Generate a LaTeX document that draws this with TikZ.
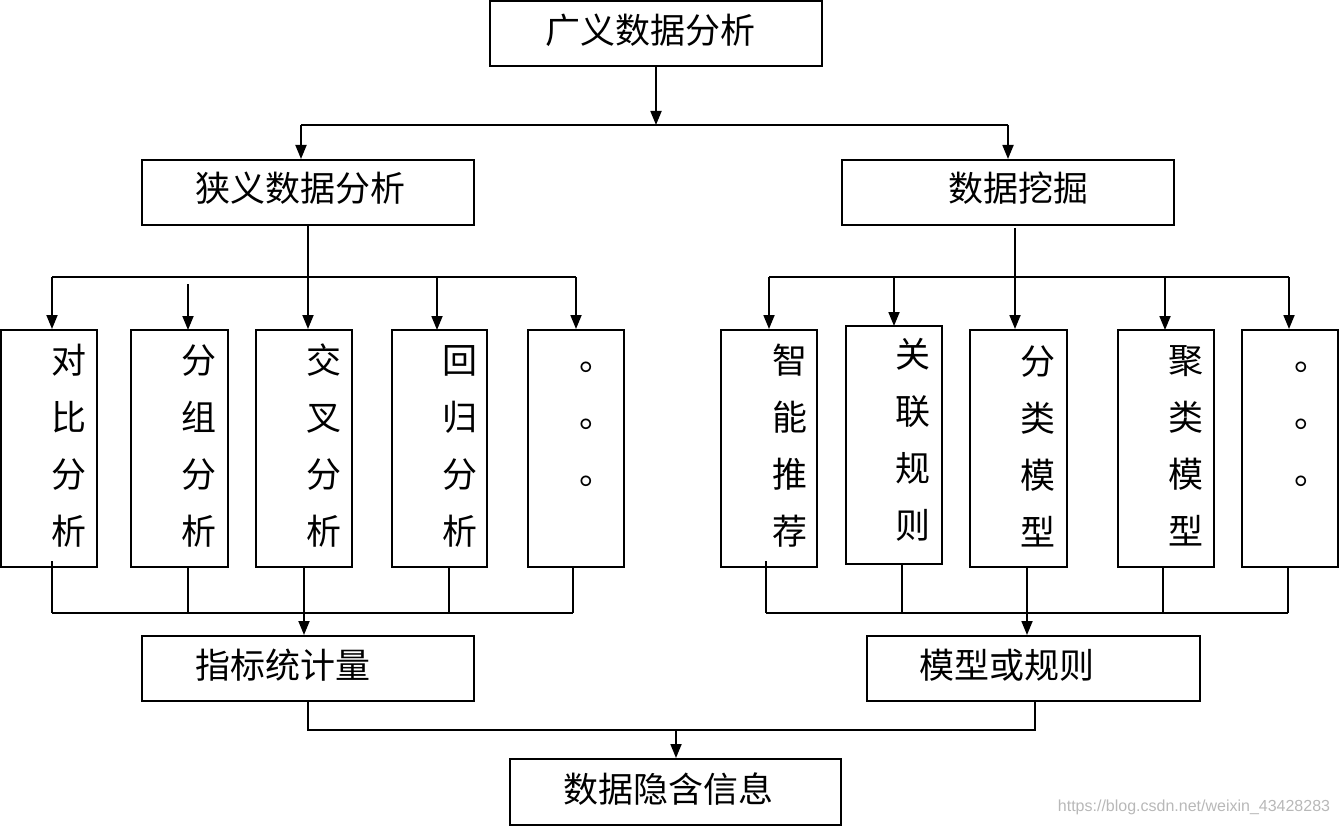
\documentclass[tikz,border=0pt]{standalone}
\usepackage{fontspec}
\newfontfamily\cjk{Noto Sans CJK SC}
\newfontfamily\wmfont{Liberation Sans}
\usetikzlibrary{arrows.meta}
\tikzset{
  box/.style={draw, line width=2pt, inner sep=0pt, fill=white},
  conn/.style={line width=1.8pt},
  arr/.style={line width=1.8pt, -{Triangle[width=11pt,length=14pt]}},
  big/.style={font=\cjk\fontsize{35}{42}\selectfont, inner sep=0pt},
  vert/.style={font=\cjk\fontsize{35}{57}\selectfont, inner sep=0pt, align=center},
}
\begin{document}
\begin{tikzpicture}[x=1pt,y=-1pt]
\useasboundingbox (0,0) rectangle (1340,826);
% top level
\node[box, minimum width=332, minimum height=65] (top) at (656,33.5) {};
\node[big] (ttop) at (650,30) {广义数据分析};
\node[box, minimum width=332, minimum height=65] (narrow) at (308,192.5) {};
\node[big] (tnarrow) at (300,188) {狭义数据分析};
\node[box, minimum width=332, minimum height=65] (mining) at (1008,192.5) {};
\node[big] (tmining) at (1018,188) {数据挖掘};
% left column boxes
\node[box, minimum width=96, minimum height=237] (L1) at (49,448.5) {};
\node[box, minimum width=97, minimum height=237] (L2) at (179.5,448.5) {};
\node[box, minimum width=96, minimum height=237] (L3) at (304,448.5) {};
\node[box, minimum width=95, minimum height=237] (L4) at (439.5,448.5) {};
\node[box, minimum width=96, minimum height=237] (L5) at (576,448.5) {};
% right column boxes
\node[box, minimum width=96, minimum height=237] (R1) at (769,448.5) {};
\node[box, minimum width=96, minimum height=238] (R2) at (894,445) {};
\node[box, minimum width=97, minimum height=237] (R3) at (1018.5,448.5) {};
\node[box, minimum width=96, minimum height=237] (R4) at (1166,448.5) {};
\node[box, minimum width=96, minimum height=237] (R5) at (1290,448.5) {};
% vertical texts
\node[vert] (tL1) at (69,446) {对\\比\\分\\析};
\node[vert] (tL2) at (199,446) {分\\组\\分\\析};
\node[vert] (tL3) at (324,446) {交\\叉\\分\\析};
\node[vert] (tL4) at (460,446) {回\\归\\分\\析};
\node[vert] (tL5) at (597,424) {。\\。\\。};
\node[vert] (tR1) at (790,446) {智\\能\\推\\荐};
\node[vert] (tR2) at (913,440) {关\\联\\规\\则};
\node[vert] (tR3) at (1038,446) {分\\类\\模\\型};
\node[vert] (tR4) at (1186,446) {聚\\类\\模\\型};
\node[vert] (tR5) at (1312,424) {。\\。\\。};
% lower boxes
\node[box, minimum width=332, minimum height=65] (stat) at (308,668.5) {};
\node[big] (tstat) at (283,665) {指标统计量};
\node[box, minimum width=333, minimum height=65] (model) at (1033.5,668.5) {};
\node[big] (tmodel) at (1007,665) {模型或规则};
\node[box, minimum width=331, minimum height=66] (info) at (675.5,792) {};
\node[big] (tinfo) at (668,789) {数据隐含信息};
% junction coordinates
\coordinate (jt) at (656,125);
\coordinate (jl) at (301,125);
\coordinate (jr) at (1008,125);
\coordinate (nl) at (308,277);
\coordinate (nll) at (52,277);
\coordinate (nlr) at (576,277);
\coordinate (ml) at (1015,277);
\coordinate (mll) at (769,277);
\coordinate (mlr) at (1289,277);
\coordinate (bl) at (304,613);
\coordinate (bll) at (52,613);
\coordinate (blr) at (573,613);
\coordinate (br) at (1027,613);
\coordinate (brl) at (766,613);
\coordinate (brr) at (1288,613);
\coordinate (fl) at (308,730);
\coordinate (fr) at (1035,730);
\coordinate (fm) at (676,730);
% top connectors
\draw[arr] (top.south -| jt) -- (jt);
\draw[conn] (jl) -- (jr);
\draw[arr] (jl) -- (jl |- narrow.north);
\draw[arr] (jr) -- (jr |- mining.north);
% narrow -> left boxes
\draw[conn] (narrow.south -| nl) -- (nl);
\draw[conn] (nll) -- (nlr);
\draw[arr] (nll) -- (nll |- L1.north);
\draw[arr] (188,284) -- (188,330);
\draw[arr] (nl) -- (nl |- L3.north);
\draw[arr] (437,277) -- (437,330);
\draw[arr] (nlr) -- (nlr |- L5.north);
% mining -> right boxes
\draw[conn] (1015,228) -- (ml);
\draw[conn] (mll) -- (mlr);
\draw[arr] (mll) -- (mll |- R1.north);
\draw[arr] (894,277) -- (894,326);
\draw[arr] (ml) -- (ml |- R3.north);
\draw[arr] (1165,277) -- (1165,330);
\draw[arr] (mlr) -- (mlr |- R5.north);
% left boxes -> stat
\draw[conn] (52,561) -- (bll);
\draw[conn] (L2.south -| 188,0) -- (188,613);
\draw[conn] (L4.south -| 449,0) -- (449,613);
\draw[conn] (L5.south -| blr) -- (blr);
\draw[conn] (bll) -- (blr);
\draw[arr] (L3.south -| bl) -- (bl |- stat.north);
% right boxes -> model
\draw[conn] (766,561) -- (brl);
\draw[conn] (R2.south -| 902,0) -- (902,613);
\draw[conn] (R4.south -| 1163,0) -- (1163,613);
\draw[conn] (R5.south -| brr) -- (brr);
\draw[conn] (brl) -- (brr);
\draw[arr] (R3.south -| br) -- (br |- model.north);
% stat, model -> info
\draw[conn] (stat.south -| fl) -- (fl) -- (fr) -- (model.south -| fr);
\draw[arr] (fm) -- (fm |- info.north);
% watermark
\node[font=\wmfont\fontsize{16}{19}\selectfont, text=black!28, inner sep=0pt] (wm) at (1194,807) {https://blog.csdn.net/weixin\_43428283};
\end{tikzpicture}
\end{document}
